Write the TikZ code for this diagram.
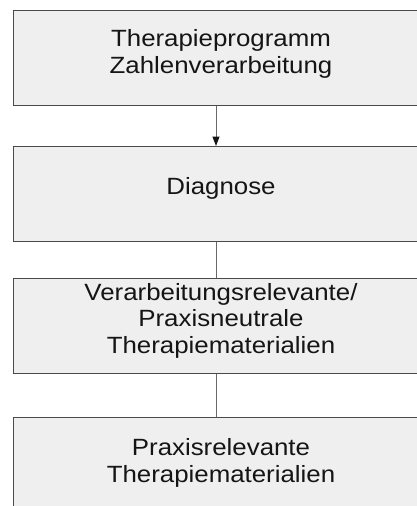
\documentclass[tikz,border=0pt]{standalone}
\usepackage{fontspec}
\setmainfont{Liberation Sans}[FakeStretch=1.1]
\usetikzlibrary{arrows.meta}
\definecolor{boxfill}{HTML}{EEEFEE}
\definecolor{boxline}{HTML}{4A4A4A}
\definecolor{linkgray}{HTML}{6A6A6A}
\definecolor{ink}{HTML}{151515}
\begin{document}
\begin{tikzpicture}[x=1pt,y=-1pt,
  box/.style={draw=boxline, fill=boxfill, line width=1.1pt,
    minimum width=416pt, minimum height=95pt, inner sep=0pt,
    anchor=north west},
  lbl/.style={text=ink, font=\fontsize{23.5}{26.7}\selectfont,
    align=center, anchor=base, inner sep=0pt},
  link/.style={draw=linkgray, line width=1pt},
  tip/.style={-{Triangle[width=7pt,length=9.5pt,color=ink]}}]
  \useasboundingbox (0,0) rectangle (417,506);
  \clip (0,0) rectangle (417,506);

  % four stacked boxes, running off the right edge
  \node[box] (b1) at (13,10) {};
  \node[box] (b2) at (13,146) {};
  \node[box] (b3) at (13,278) {};
  \node[box] (b4) at (13,417) {};

  % box texts, placed by the baseline of their last line
  \node[lbl] (t1) at (221,73.3) {Therapieprogramm\\Zahlenverarbeitung};
  \node[lbl] (t2) at (221,194) {Diagnose};
  \node[lbl] (t3) at (221,353.5) {Verarbeitungsrelevante/\\Praxisneutrale\\Therapiematerialien};
  \node[lbl] (t4) at (221,482) {Praxisrelevante\\Therapiematerialien};

  % connectors
  \coordinate (axis) at (216,0);
  \draw[link,tip] (b1.south -| axis) -- (b2.north -| axis);
  \draw[link] (b2.south -| axis) -- (b3.north -| axis);
  \draw[link] (b3.south -| axis) -- (b4.north -| axis);
\end{tikzpicture}
\end{document}
